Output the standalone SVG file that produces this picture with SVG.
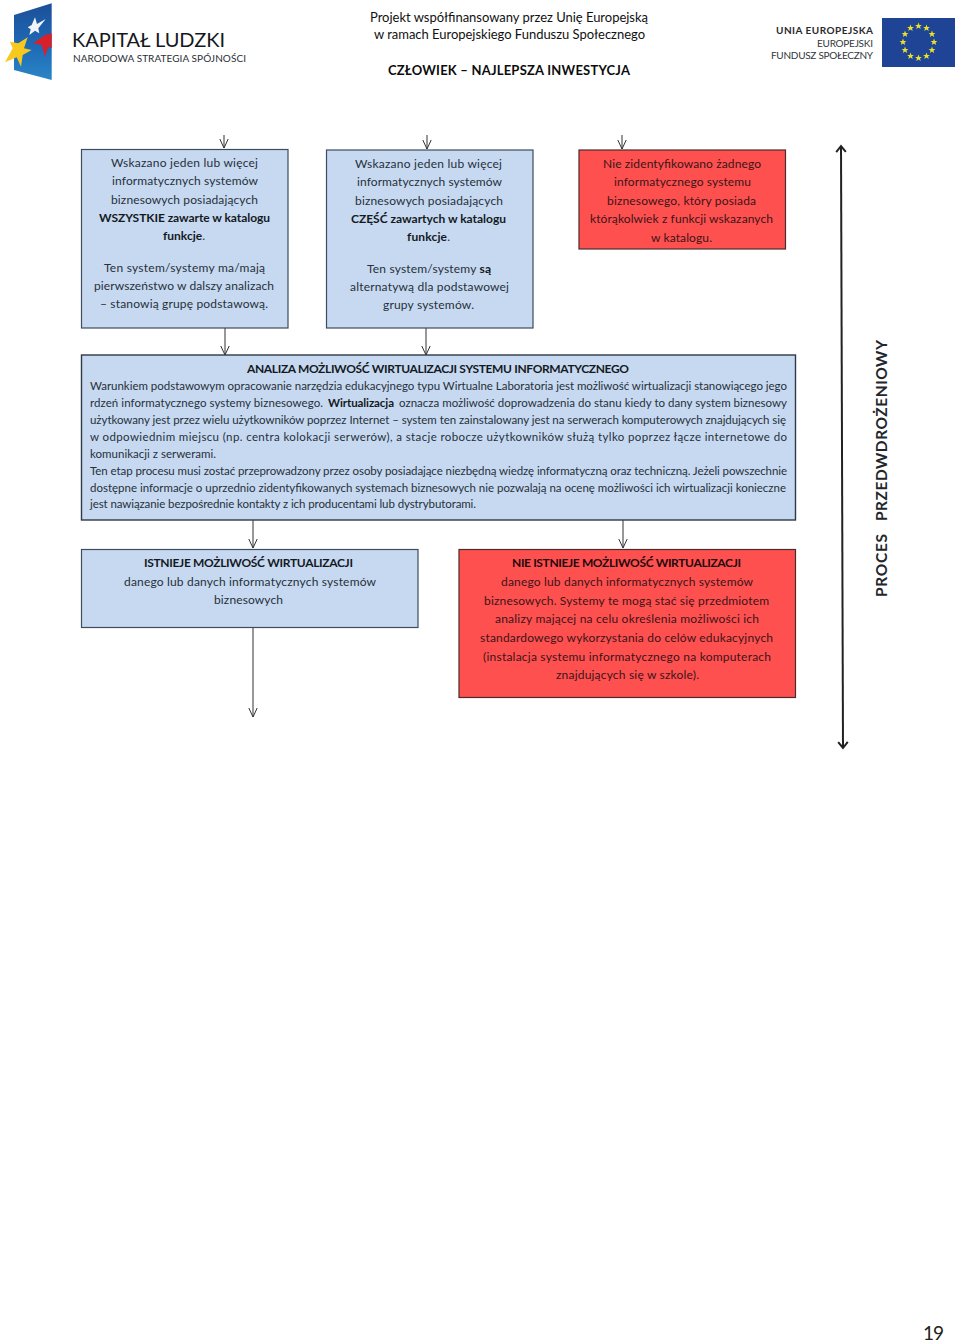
<svg xmlns="http://www.w3.org/2000/svg" width="960" height="1342" viewBox="0 0 960 1342">
<style>
text{font-family:"Lato","Liberation Sans",sans-serif;fill:#26303a;font-size:12px}
.b{font-weight:700;fill:#15191e}
.red text{fill:#3a1518}
.red .b{fill:#1e0a0c}
.box{fill:#c6d9f1;stroke:#3d4c5e;stroke-width:1.2}
.rbox{fill:#ff5050;stroke:#4a2a2a;stroke-width:1.2}
.hd{fill:#111;font-size:13px}
.conn{fill:none;stroke:#333;stroke-width:1;marker-end:url(#arr)}
</style>
<defs>
<marker id="arr" markerUnits="userSpaceOnUse" markerWidth="12" markerHeight="12" refX="10.500" refY="6" orient="auto" viewBox="0 0 12 12"><path d="M1.500 1.800 L10.500 6 L1.500 10.200" fill="none" stroke="#333" stroke-width="1"/></marker>
<marker id="big" markerUnits="userSpaceOnUse" markerWidth="14" markerHeight="14" refX="12" refY="7" orient="auto-start-reverse" viewBox="0 0 14 14"><path d="M6 2.200 L12 7 L6 11.800" fill="none" stroke="#222" stroke-width="2"/></marker>
<polygon id="st" points="0,-3.400 .9,-1.100 3.400,-1.100 1.500,.5 2.200,3 0,1.500 -2.200,3 -1.500,.5 -3.400,-1.100 -.9,-1.100" fill="#e9e02e"/>
<linearGradient id="fl" x1="0" y1="0" x2="0" y2="1"><stop offset="0" stop-color="#1c4f98"/><stop offset=".6" stop-color="#1f6cb8"/><stop offset="1" stop-color="#2a86c6"/></linearGradient>
</defs>

<g id="logo-kapital">
<polygon points="14,15 51.700,3.300 51.700,80 14,70" fill="url(#fl)"/>
<polygon points="45.700,19 37,24 35,17.300 31.700,25 27.700,27.300 30.700,29.300 29.300,35 35,30.700 39.300,33.300 38.300,28.300" fill="#f2f3f6"/>
<polygon points="51.700,33.300 45,35 33.300,43.300 41.700,45 45,56.700 48.300,46.700 51.700,48.300" fill="#d8202c"/>
<polygon points="27.700,37.300 18.300,43.300 10,41.700 12.700,48.300 5,62.300 16.700,57.300 21,66.700 22.700,55 31.700,50 24,48.300" fill="#f7c81e"/>
<text x="72" y="47" textLength="153" style="font-size:20px;fill:#14181c">KAPITAŁ LUDZKI</text>
<text x="73" y="62" textLength="173" style="font-size:10px;fill:#2a2f34">NARODOWA STRATEGIA SPÓJNOŚCI</text>
</g>

<g id="header">
<text class="hd" x="370" y="22" textLength="278">Projekt współfinansowany przez Unię Europejską</text>
<text class="hd" x="374" y="39" textLength="271">w ramach Europejskiego Funduszu Społecznego</text>
<text class="hd b" x="388" y="75" textLength="242" style="fill:#0c0c0c">CZŁOWIEK – NAJLEPSZA INWESTYCJA</text>
</g>

<g id="logo-ue">
<text class="b" x="776" y="34" textLength="97" style="font-size:10px;fill:#2a2a2e">UNIA EUROPEJSKA</text>
<text x="817" y="47" textLength="56" style="font-size:10px;fill:#33373c">EUROPEJSKI</text>
<text x="771" y="59" textLength="102" style="font-size:10px;fill:#33373c">FUNDUSZ SPOŁECZNY</text>
<rect x="882" y="18" width="73" height="49" fill="#1f4496"/>
<use href="#st" x="918.500" y="26"/><use href="#st" x="926.500" y="28"/><use href="#st" x="932" y="34"/><use href="#st" x="934" y="42"/><use href="#st" x="932" y="50"/><use href="#st" x="926.500" y="56"/><use href="#st" x="918.500" y="58"/><use href="#st" x="910.500" y="56"/><use href="#st" x="905" y="50"/><use href="#st" x="903" y="42"/><use href="#st" x="905" y="34"/><use href="#st" x="910.500" y="28"/>
</g>

<g id="connectors">
<path class="conn" d="M224 135V148"/>
<path class="conn" d="M427 135V149"/>
<path class="conn" d="M622 135V149"/>
<path class="conn" d="M225 328V355"/>
<path class="conn" d="M426 328V355"/>
<path class="conn" d="M253 520V548"/>
<path class="conn" d="M623 520V548"/>
<path class="conn" d="M253 627V717"/>
<path d="M841 146L843 748" fill="none" stroke="#222" stroke-width="2" marker-start="url(#big)" marker-end="url(#big)"/>
</g>

<g id="node-wszystkie">
<rect class="box" x="81.500" y="149.500" width="206.500" height="178.500"/>
<text x="111" y="167" textLength="147">Wskazano jeden lub więcej</text>
<text x="112" y="185" textLength="146">informatycznych systemów</text>
<text x="111" y="204" textLength="147">biznesowych posiadających</text>
<text class="b" x="99" y="222" textLength="171">WSZYSTKIE zawarte w katalogu</text>
<text x="163" y="240" textLength="42"><tspan class="b">funkcje</tspan>.</text>
<text x="104" y="272" textLength="161">Ten system/systemy ma/mają</text>
<text x="94" y="290" textLength="180">pierwszeństwo w dalszy analizach</text>
<text x="100" y="308" textLength="168">– stanowią grupę podstawową.</text>
</g>

<g id="node-czesc">
<rect class="box" x="326.500" y="150" width="206.500" height="178"/>
<text x="355" y="168" textLength="147">Wskazano jeden lub więcej</text>
<text x="357" y="186" textLength="145">informatycznych systemów</text>
<text x="355" y="205" textLength="148">biznesowych posiadających</text>
<text class="b" x="351" y="223" textLength="155">CZĘŚĆ zawartych w katalogu</text>
<text x="407" y="241" textLength="43"><tspan class="b">funkcje</tspan>.</text>
<text x="367" y="273" textLength="124">Ten system/systemy <tspan class="b">są</tspan></text>
<text x="350" y="291" textLength="159">alternatywą dla podstawowej</text>
<text x="383" y="309" textLength="91">grupy systemów.</text>
</g>

<g id="node-brak" class="red">
<rect class="rbox" x="579" y="150" width="206.500" height="99"/>
<text x="603" y="168" textLength="158">Nie zidentyfikowano żadnego</text>
<text x="614" y="186" textLength="137">informatycznego systemu</text>
<text x="607" y="205" textLength="149">biznesowego, który posiada</text>
<text x="590" y="223" textLength="183">którąkolwiek z funkcji wskazanych</text>
<text x="651" y="242" textLength="61">w katalogu.</text>
</g>

<g id="node-analiza">
<rect class="box" x="81.500" y="355" width="714" height="165" style="stroke:#2e3a48;stroke-width:1.400"/>
<text class="b" x="247" y="373" textLength="382">ANALIZA MOŻLIWOŚĆ WIRTUALIZACJI SYSTEMU INFORMATYCZNEGO</text>
<text x="90" y="390" textLength="697" style="font-size:11.500px">Warunkiem podstawowym opracowanie narzędzia edukacyjnego typu Wirtualne Laboratoria jest możliwość wirtualizacji stanowiącego jego</text>
<text x="90" y="407" textLength="233" style="font-size:11.500px">rdzeń informatycznego systemy biznesowego.</text>
<text class="b" x="328" y="407" textLength="66" style="font-size:11.500px">Wirtualizacja</text>
<text x="399" y="407" textLength="388" style="font-size:11.500px">oznacza możliwość doprowadzenia do stanu kiedy to dany system biznesowy</text>
<text x="90" y="424" textLength="696" style="font-size:11.500px">użytkowany jest przez wielu użytkowników poprzez Internet – system ten zainstalowany jest na serwerach komputerowych znajdujących się</text>
<text x="90" y="441" textLength="697" style="font-size:11.500px">w odpowiednim miejscu (np. centra kolokacji serwerów), a stacje robocze użytkowników służą tylko poprzez łącze internetowe do</text>
<text x="90" y="458" textLength="126" style="font-size:11.500px">komunikacji z serwerami.</text>
<text x="90" y="475" textLength="697" style="font-size:11.500px">Ten etap procesu musi zostać przeprowadzony przez osoby posiadające niezbędną wiedzę informatyczną oraz techniczną. Jeżeli powszechnie</text>
<text x="90" y="492" textLength="696" style="font-size:11.500px">dostępne informacje o uprzednio zidentyfikowanych systemach biznesowych nie pozwalają na ocenę możliwości ich wirtualizacji konieczne</text>
<text x="90" y="508" textLength="386" style="font-size:11.500px">jest nawiązanie bezpośrednie kontakty z ich producentami lub dystrybutorami.</text>
</g>

<g id="node-istnieje">
<rect class="box" x="81.500" y="549.500" width="336.500" height="78"/>
<text class="b" x="144" y="567" textLength="209">ISTNIEJE MOŻLIWOŚĆ WIRTUALIZACJI</text>
<text x="124" y="586" textLength="252">danego lub danych informatycznych systemów</text>
<text x="214" y="604" textLength="69">biznesowych</text>
</g>

<g id="node-nie-istnieje" class="red">
<rect class="rbox" x="459" y="549.500" width="336.500" height="148"/>
<text class="b" x="512" y="567" textLength="229">NIE ISTNIEJE MOŻLIWOŚĆ WIRTUALIZACJI</text>
<text x="501" y="586" textLength="252">danego lub danych informatycznych systemów</text>
<text x="484" y="605" textLength="285">biznesowych. Systemy te mogą stać się przedmiotem</text>
<text x="495" y="623" textLength="264">analizy mającej na celu określenia możliwości ich</text>
<text x="480" y="642" textLength="293">standardowego wykorzystania do celów edukacyjnych</text>
<text x="483" y="661" textLength="288">(instalacja systemu informatycznego na komputerach</text>
<text x="556" y="679" textLength="143">znajdujących się w szkole).</text>
</g>

<g id="label-proces">
<text class="b" transform="translate(887,597) rotate(-90)" x="0" y="0" textLength="63" style="font-size:15.500px;fill:#23272c">PROCES</text>
<text class="b" transform="translate(887,521) rotate(-90)" x="0" y="0" textLength="181" style="font-size:15.500px;fill:#23272c">PRZEDWDROŻENIOWY</text>
</g>

<text id="page-number" x="923" y="1340" textLength="21" style="font-size:19px;fill:#222">19</text>
</svg>
